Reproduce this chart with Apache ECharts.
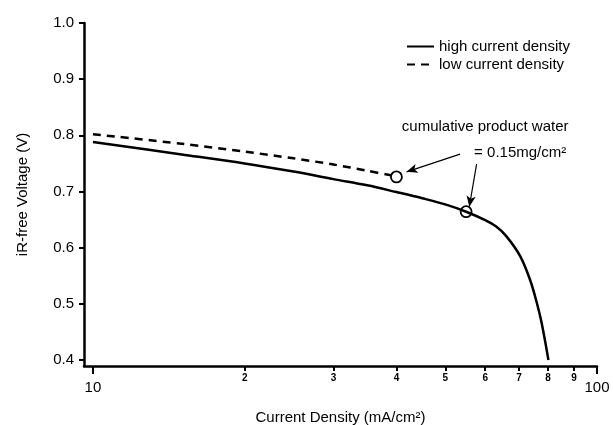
<!DOCTYPE html>
<html>
<head>
<meta charset="utf-8">
<script src="https://cdn.jsdelivr.net/npm/echarts@6/dist/echarts.min.js"></script>
<style>
  html, body { margin: 0; padding: 0; background: #fff; }
  #main { width: 613px; height: 425px; }
</style>
</head>
<body>
<div id="main"></div>
<script>
// current density (mA/cm2) and iR-free voltage (V)
var highX = [10, 15, 20, 25, 30, 35, 40, 45, 50, 55, 60, 63, 66, 70.4, 73.7, 76, 77.7, 80.1];
var highY = [0.788, 0.766, 0.750, 0.7355, 0.722, 0.711, 0.699, 0.688, 0.677, 0.664, 0.649, 0.638, 0.621, 0.585, 0.542, 0.501, 0.465, 0.400];
var lowX = [10, 15, 20, 25, 30, 35, 39];
var lowY = [0.802, 0.785, 0.771, 0.759, 0.748, 0.737, 0.729];
// points where cumulative product water = 0.15 mg/cm2
var waterPts = [[40, 0.726], [55, 0.664]];
var majorTicks = [10, 100];
var minorTicks = [20, 30, 40, 50, 60, 70, 80, 90];
var yTicks = [0.4, 0.5, 0.6, 0.7, 0.8, 0.9, 1.0];

var font = 'Liberation Sans';
var myChart = echarts.init(document.getElementById('main'));

function pairs(xs, ys) {
  return xs.map(function (x, i) { return [x, ys[i]]; });
}

var option = {
  backgroundColor: '#fff',
  animation: false,
  textStyle: { fontFamily: font, color: '#000' },
  grid: { left: 84, right: 16, top: 23, bottom: 59, containLabel: false, outerBoundsMode: 'none' },
  legend: {
    data: ['high current density', 'low current density'],
    orient: 'vertical',
    left: 401,
    top: 34,
    itemWidth: 27,
    itemHeight: 14,
    itemGap: 3,
    itemStyle: { opacity: 0 },
    textStyle: { fontSize: 15, color: '#000', fontFamily: font }
  },
  xAxis: [
    {
      type: 'log',
      min: 9.6,
      max: 100,
      name: 'Current Density (mA/cm²)',
      nameLocation: 'middle',
      nameGap: 44,
      nameTextStyle: { fontSize: 15, color: '#000' },
      axisLine: { show: true, lineStyle: { color: '#000', width: 2.5 } },
      axisTick: { show: true, customValues: majorTicks, length: 8, lineStyle: { color: '#000', width: 2 } },
      axisLabel: { customValues: majorTicks, fontSize: 15, color: '#000', margin: 14 },
      splitLine: { show: false },
      minorTick: { show: false }
    },
    {
      type: 'log',
      min: 9.6,
      max: 100,
      position: 'bottom',
      axisLine: { show: false },
      axisTick: { show: true, customValues: minorTicks, length: 5, lineStyle: { color: '#000', width: 2 } },
      axisLabel: {
        customValues: minorTicks, fontSize: 10, fontWeight: 'bold', color: '#000', margin: 7,
        formatter: function (v) { return String(Math.round(v / 10)); }
      },
      splitLine: { show: false }
    }
  ],
  yAxis: {
    type: 'value',
    min: 0.3893,
    max: 1.0,
    name: 'iR-free Voltage (V)',
    nameLocation: 'middle',
    nameGap: 54,
    nameTextStyle: { fontSize: 15, color: '#000' },
    axisLine: { show: true, lineStyle: { color: '#000', width: 2.5 } },
    axisTick: { show: true, customValues: yTicks, length: 5, lineStyle: { color: '#000', width: 2 } },
    axisLabel: {
      customValues: yTicks, fontSize: 15, color: '#000', margin: 10,
      formatter: function (v) { return v.toFixed(1); }
    },
    splitLine: { show: false }
  },
  series: [
    {
      name: 'high current density',
      type: 'line',
      data: pairs(highX, highY),
      showSymbol: false,
      symbol: 'none',
      smooth: 0.35,
      lineStyle: { color: '#000', width: 2.5 },
      itemStyle: { color: '#000' }
    },
    {
      name: 'low current density',
      type: 'line',
      data: pairs(lowX, lowY),
      showSymbol: false,
      symbol: 'none',
      smooth: 0.3,
      lineStyle: { color: '#000', width: 2.5, type: [8, 6] },
      itemStyle: { color: '#000' }
    },
    {
      name: 'water',
      type: 'scatter',
      data: waterPts,
      symbol: 'circle',
      symbolSize: 11,
      itemStyle: { color: 'rgba(0,0,0,0)', borderColor: '#000', borderWidth: 1.8, opacity: 1 },
      z: 5,
      markLine: {
        silent: true,
        symbol: ['none', 'arrow'],
        symbolSize: [7, 11],
        label: { show: false },
        lineStyle: { color: '#000', width: 1.2, type: 'solid' },
        data: [
          [{ coord: [53.5, 0.7666] }, { coord: [41.9, 0.735] }],
          [{ coord: [57.7, 0.7488] }, { coord: [55.8, 0.6728] }]
        ]
      },
      markPoint: {
        silent: true,
        symbolSize: 0,
        itemStyle: { color: 'transparent' },
        label: { show: true, position: 'inside', fontSize: 15, color: '#000', fontFamily: font },
        data: [
          { coord: [60.0, 0.8146], label: { formatter: 'cumulative product water' } },
          { coord: [70.4, 0.768], label: { formatter: '= 0.15mg/cm²' } }
        ]
      }
    }
  ]
};

myChart.setOption(option);
</script>
</body>
</html>
